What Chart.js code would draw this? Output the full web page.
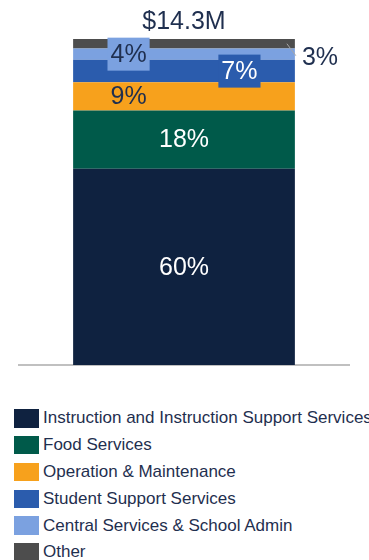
<!DOCTYPE html>
<html>
<head>
<meta charset="utf-8">
<script src="https://cdn.jsdelivr.net/npm/chart.js@4"></script>
<style>
  html, body { margin: 0; padding: 0; background: #fff; }
  body { width: 369px; height: 560px; overflow: hidden; font-family: "Liberation Sans", Arial, sans-serif; }
  #wrap { position: relative; width: 369px; height: 380px; }
  #legend { position: absolute; left: 14px; top: 405px; }
  .item { height: 26.8px; display: flex; align-items: center; white-space: nowrap; }
  .box { width: 25px; height: 18.5px; margin-right: 4px; flex: none; }
  .txt { font-size: 17px; color: #1f2f4f; }
</style>
</head>
<body>
<div id="wrap"><canvas id="bar-chart"></canvas></div>
<div id="legend"></div>
<script>
var categories = ["Total"];
var seriesNames = ["Instruction and Instruction Support Services", "Food Services", "Operation & Maintenance",
                   "Student Support Services", "Central Services & School Admin", "Other"];
var seriesValues = [60.2, 17.9, 8.6, 6.9, 3.5, 2.9];
var totalLabel = "$14.3M";

var colors = ["#0f2240", "#005a4a", "#f7a11c", "#2b5cad", "#7ba1e0", "#4d4d4d"];
// where each segment label goes, and its colour
var labelStyle = [
  { pos: "center", color: "#ffffff" },
  { pos: "center", color: "#ffffff" },
  { pos: "left", color: "#1f2f4f" },
  { pos: "right", color: "#ffffff", boxed: true },
  { pos: "left", color: "#1f2f4f", boxed: true },
  { pos: "outside", color: "#1f2f4f" }
];
var textColor = "#1f2f4f";
var font = '25px "Liberation Sans", Arial, sans-serif';

var labelPlugin = {
  id: "segLabels",
  afterDatasetsDraw: function (chart) {
    var ctx = chart.ctx;
    ctx.save();
    ctx.font = font;
    ctx.textBaseline = "middle";
    var topY = null, midX = 0;
    chart.data.datasets.forEach(function (ds, i) {
      var bar = chart.getDatasetMeta(i).data[0];
      var p = bar.getProps(["x", "y", "base", "width"], true);
      var left = p.x - p.width / 2, right = p.x + p.width / 2;
      var cy = (p.y + p.base) / 2;
      var st = labelStyle[i];
      var text = Math.round(ds.data[0]) + "%";
      if (topY === null || p.y < topY) { topY = p.y; midX = p.x; }
      var tx;
      if (st.pos === "left") tx = left + p.width * 0.25;
      else if (st.pos === "right") tx = left + p.width * 0.75;
      else tx = p.x;
      if (st.pos === "outside") {
        ctx.strokeStyle = "#a6a6a6";
        ctx.lineWidth = 1;
        ctx.beginPath();
        ctx.moveTo(right - 8, cy);
        ctx.lineTo(right + 1, cy + 12);
        ctx.stroke();
        ctx.fillStyle = st.color;
        ctx.textAlign = "left";
        ctx.fillText(text, right + 7, cy + 14);
        return;
      }
      ctx.textAlign = "center";
      if (st.boxed) {
        var w = ctx.measureText(text).width + 6;
        ctx.fillStyle = ds.backgroundColor;
        ctx.fillRect(tx - w / 2, cy - 16.5, w, 33);
      }
      ctx.fillStyle = st.color;
      ctx.fillText(text, tx, cy + 1);
    });
    ctx.fillStyle = textColor;
    ctx.textAlign = "center";
    ctx.fillText(totalLabel, midX, topY - 17);
    ctx.restore();
  }
};

var chart = new Chart(document.getElementById("bar-chart"), {
  type: "bar",
  data: {
    labels: categories,
    datasets: seriesNames.map(function (name, i) {
      return {
        label: name,
        data: [seriesValues[i]],
        backgroundColor: colors[i],
        borderWidth: 0,
        barPercentage: 1,
        categoryPercentage: 0.672
      };
    })
  },
  options: {
    responsive: true,
    maintainAspectRatio: false,
    animation: false,
    layout: { padding: { top: 39, left: 19, right: 20, bottom: 7 } },
    plugins: {
      legend: { display: false },
      tooltip: { enabled: false },
      title: { display: false }
    },
    scales: {
      x: {
        stacked: true,
        grid: { display: false },
        ticks: { display: false },
        border: { display: true, color: "#c0c0c0", width: 2 }
      },
      y: {
        stacked: true,
        display: false,
        min: 0,
        max: 100
      }
    }
  },
  plugins: [labelPlugin]
});

var legend = document.getElementById("legend");
seriesNames.forEach(function (name, i) {
  var item = document.createElement("div");
  item.className = "item";
  item.innerHTML = '<span class="box" style="background:' + colors[i] + '"></span><span class="txt"></span>';
  item.querySelector(".txt").textContent = name;
  legend.appendChild(item);
});
</script>
</body>
</html>
